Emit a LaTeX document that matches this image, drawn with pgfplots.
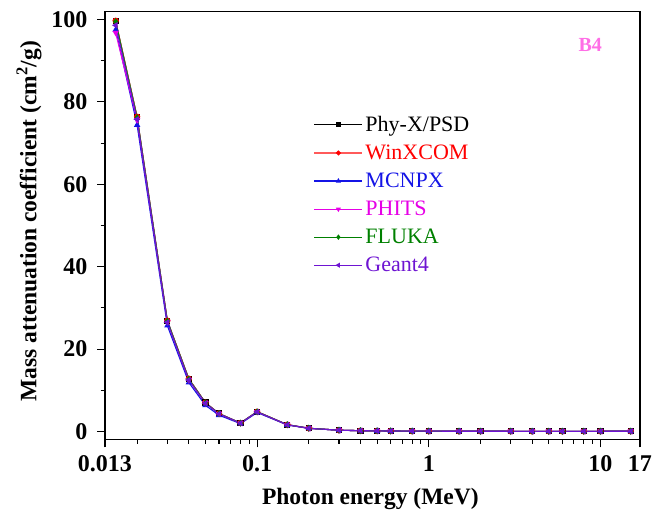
\documentclass[border=0pt]{standalone}
\usepackage{pgfplots}
\pgfplotsset{compat=1.18}
\usepackage{fontspec}
\setmainfont{Liberation Serif}
\definecolor{cWin}{RGB}{255,0,0}
\definecolor{cWinL}{RGB}{255,90,90}
\definecolor{cMC}{RGB}{20,20,230}
\definecolor{cPH}{RGB}{230,0,230}
\definecolor{cFL}{RGB}{0,128,0}
\definecolor{cG4}{RGB}{110,20,210}
\definecolor{cB4}{RGB}{255,110,230}
\begin{document}
\begin{tikzpicture}
\useasboundingbox (-105pt,-71.7pt) rectangle (558pt,439.3pt);
\begin{axis}[
  at={(0pt,0pt)}, anchor=south west,
  scale only axis, width=535pt, height=427.6pt,
  xmode=log, xmin=0.013, xmax=17, ymin=-1.9, ymax=101.9,
  xtick={0.013,0.1,1,10,17}, xticklabels={0.013,0.1,1,10,17},
  minor xtick={0.02,0.03,0.04,0.05,0.06,0.07,0.08,0.09,0.2,0.3,0.4,0.5,0.6,0.7,0.8,0.9,2,3,4,5,6,7,8,9},
  ytick={0,20,40,60,80,100}, minor y tick num=1,
  xtick pos=bottom, ytick pos=left, tick align=outside,
  major tick length=8pt, minor tick length=4.5pt,
  every tick/.style={line width=1.1pt, black},
  axis line style={line width=1.2pt},
  /pgf/number format/assume math mode=true,
  ticklabel style={font=\fontsize{24}{24}\selectfont\bfseries},
  xticklabel style={yshift=-5pt},
  yticklabel style={xshift=-6pt},
  xlabel={Photon energy (MeV)}, ylabel={Mass attenuation coefficient (cm$^{\mathbf{2}}$/g)},
  label style={font=\fontsize{23.5}{23.5}\selectfont\bfseries},
  xlabel style={at={(axis description cs:0.496,-0.14)}, anchor=center},
  ylabel style={at={(axis description cs:-0.142,0.51)}, anchor=center},
  legend style={draw=none, fill=none, at={(rel axis cs:0.390,0.762)}, anchor=north west,
    font=\fontsize{22}{22}\selectfont, row sep=7pt, inner sep=0pt,
    nodes={inner sep=2.5pt}},
  legend cell align=left,
  legend image code/.code={\draw[mark repeat=2,mark phase=2,mark size=1.9pt] plot coordinates {(0pt,0pt) (24pt,0pt) (48pt,0pt)};},
  every axis plot/.append style={line width=1.1pt, mark size=2.6pt},
]
\addplot[black, mark=square*] coordinates {(0.015,99.6)(0.02,76.3)(0.03,26.9)(0.04,12.8)(0.05,7.0)(0.06,4.35)(0.08,2.05)(0.1,4.80)(0.15,1.65)(0.2,0.78)(0.3,0.31)(0.4,0.19)(0.5,0.14)(0.6,0.115)(0.8,0.088)(1,0.074)(1.5,0.057)(2,0.049)(3,0.042)(4,0.040)(5,0.039)(6,0.039)(8,0.040)(10,0.042)(15,0.046)};
\addlegendentry{\textcolor{black}{Phy-X/PSD}}
\addplot[cWinL, mark=*, mark options={fill=cWin, draw=cWin}] coordinates {(0.015,99.7)(0.02,76.4)(0.03,26.9)(0.04,12.8)(0.05,7.0)(0.06,4.36)(0.08,2.06)(0.1,4.80)(0.15,1.65)(0.2,0.78)(0.3,0.31)(0.4,0.19)(0.5,0.14)(0.6,0.115)(0.8,0.088)(1,0.074)(1.5,0.057)(2,0.049)(3,0.042)(4,0.040)(5,0.039)(6,0.039)(8,0.040)(10,0.042)(15,0.046)};
\addlegendentry{\textcolor{cWin}{WinXCOM}}
\addplot[cMC, mark=triangle*] coordinates {(0.015,97.5)(0.02,74.4)(0.03,25.7)(0.04,11.9)(0.05,6.35)(0.06,3.95)(0.08,1.90)(0.1,4.60)(0.15,1.58)(0.2,0.75)(0.3,0.30)(0.4,0.185)(0.5,0.138)(0.6,0.113)(0.8,0.087)(1,0.073)(1.5,0.056)(2,0.048)(3,0.041)(4,0.039)(5,0.038)(6,0.038)(8,0.039)(10,0.041)(15,0.045)};
\addlegendentry{\textcolor{cMC}{MCNPX}}
\addplot[cPH, mark=triangle*, mark options={rotate=180}] coordinates {(0.015,96.8)(0.02,75.6)(0.03,26.6)(0.04,12.5)(0.05,6.9)(0.06,4.3)(0.08,2.02)(0.1,4.75)(0.15,1.63)(0.2,0.77)(0.3,0.31)(0.4,0.19)(0.5,0.14)(0.6,0.114)(0.8,0.088)(1,0.074)(1.5,0.057)(2,0.049)(3,0.042)(4,0.040)(5,0.039)(6,0.039)(8,0.040)(10,0.042)(15,0.046)};
\addlegendentry{\textcolor{cPH}{PHITS}}
\addplot[cFL, mark=diamond*] coordinates {(0.015,99.5)(0.02,76.2)(0.03,26.8)(0.04,12.7)(0.05,6.95)(0.06,4.33)(0.08,2.04)(0.1,4.78)(0.15,1.64)(0.2,0.78)(0.3,0.31)(0.4,0.19)(0.5,0.14)(0.6,0.115)(0.8,0.088)(1,0.074)(1.5,0.057)(2,0.049)(3,0.042)(4,0.040)(5,0.039)(6,0.039)(8,0.040)(10,0.042)(15,0.046)};
\addlegendentry{\textcolor{cFL}{FLUKA}}
\addplot[cG4, mark=triangle*, mark options={rotate=90}] coordinates {(0.015,98.6)(0.02,75.8)(0.03,26.5)(0.04,12.5)(0.05,6.85)(0.06,4.28)(0.08,2.02)(0.1,4.74)(0.15,1.62)(0.2,0.77)(0.3,0.31)(0.4,0.19)(0.5,0.14)(0.6,0.114)(0.8,0.088)(1,0.074)(1.5,0.057)(2,0.049)(3,0.042)(4,0.040)(5,0.039)(6,0.039)(8,0.040)(10,0.042)(15,0.046)};
\addlegendentry{\textcolor{cG4}{Geant4}}
\node[font=\fontsize{20}{20}\selectfont\bfseries, text=cB4] at (rel axis cs:0.907,0.922) {B4};
\end{axis}
\end{tikzpicture}
\end{document}
